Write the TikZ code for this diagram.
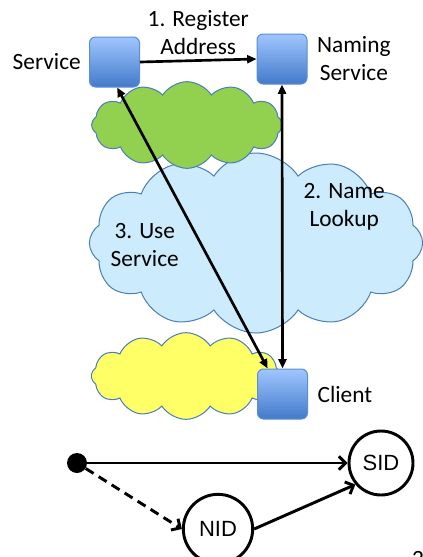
\documentclass[tikz,border=0pt]{standalone}
\usepackage{fontspec}
\setmainfont{Carlito}
\newfontfamily\idfont{Liberation Sans}
\usepackage{tikz}
\usetikzlibrary{positioning,shapes.symbols,arrows.meta}
\definecolor{boxtop}{RGB}{160,198,255}
\definecolor{boxbot}{RGB}{66,122,202}
\definecolor{boxline}{RGB}{92,142,212}
\definecolor{cloudline}{RGB}{74,126,187}
\definecolor{leafgreen}{RGB}{146,208,80}
\definecolor{skyblue}{RGB}{204,235,252}
\definecolor{lemon}{RGB}{255,255,102}

\begin{document}
\begin{tikzpicture}[x=0.75pt,y=-0.75pt,
    box/.style={rectangle,rounded corners=4.5pt,draw=boxline,line width=0.75pt,
        top color=boxtop,bottom color=boxbot,minimum size=37.5pt,inner sep=0pt},
    net/.style={cloud,cloud puffs=12,cloud puff arc=115,draw=cloudline,
        line width=0.75pt,inner sep=0pt},
    lbl/.style={font=\fontsize{17.5}{21}\selectfont,align=center,inner sep=0pt},
    msg/.style={line width=2pt,-{Triangle[length=7pt,width=6pt]}},
    both/.style={line width=2pt,{Triangle[length=7pt,width=6pt]}-{Triangle[length=7pt,width=6pt]}},
    ident/.style={circle,draw,line width=2.2pt,inner sep=0pt,
        font=\idfont\fontsize{16.5}{20}\selectfont},
    link/.style={line width=2.2pt,-{Straight Barb[length=5pt,width=10pt]}}]

    \useasboundingbox (0,0) rectangle (422,557);

    % networks
    \node[net,fill=skyblue,minimum width=250pt,minimum height=135pt] (core) at (256,243) {};
    \node[net,fill=leafgreen,minimum width=143pt,minimum height=65pt] (svcnet) at (187,125) {};
    \node[net,fill=lemon,minimum width=142pt,minimum height=65pt] (clinet) at (186,376) {};

    % hosts
    \node[box] (SvcBox) at (114.5,62) {};
    \node[box] (NameBox) at (282,59) {};
    \node[box] (Client) at (282.5,394) {};

    \node[lbl,left=6pt of SvcBox] {Service};
    \node[lbl,right=7pt of NameBox] {Naming\\Service};
    \node[lbl,right=7pt of Client] {Client};

    % protocol steps
    \draw[msg] (SvcBox.east) -- node[lbl,above=3pt] {1. Register\\Address} (NameBox.west);
    \draw[both] (NameBox.south) -- node[lbl,pos=0.43,right=15pt] {2. Name\\Lookup} (Client.north);
    \draw[both] ([xshift=2pt]SvcBox.south) -- node[lbl,pos=0.56,left=16pt] {3. Use\\Service}
        ([xshift=8pt]Client.north west);

    % identifiers
    \node[circle,fill,minimum size=15pt,inner sep=0pt] (src) at (77,463) {};
    \node[ident,minimum size=48pt] (sid) at (381,463) {SID};
    \node[ident,minimum size=52pt] (nid) at (218,529) {NID};

    \draw[link] (src) -- (sid);
    \draw[link,dash pattern=on 7pt off 4.5pt] (src) -- (nid.west);
    \draw[link] (nid.east) -- (sid.220);

    \node[lbl,anchor=north] (pg) at (418,551) {2};
\end{tikzpicture}
\end{document}
